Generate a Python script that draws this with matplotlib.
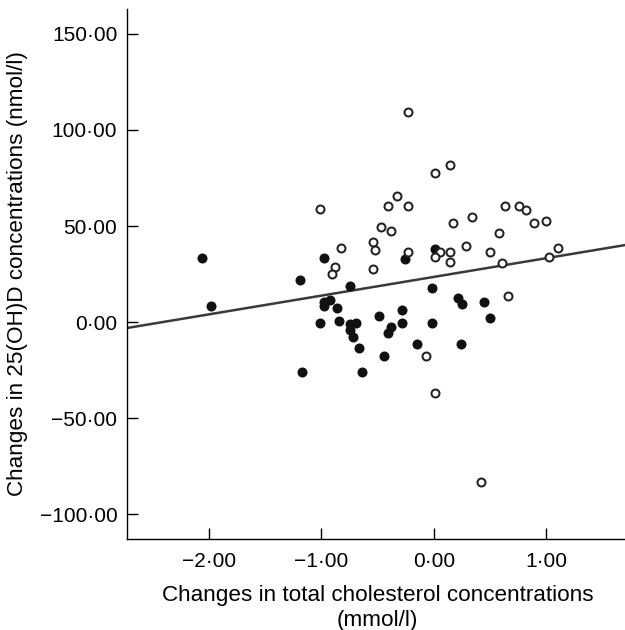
import numpy as np
import matplotlib
matplotlib.use('Agg')
import matplotlib.pyplot as plt
from matplotlib.ticker import FuncFormatter

# filled circles
filled_x = [-2.06, -1.98, -0.98, -1.19, -0.75, -0.98, -0.92, -0.98, -0.86, -1.01,
            -0.84, -0.75, -0.69, -0.75, -0.72, -0.67, -1.17, -0.64, -0.49, -0.26,
            0.01, -0.02, 0.21, 0.25, 0.45, 0.50, -0.28, -0.28, -0.385, -0.41,
            -0.02, -0.15, -0.44, 0.24]
filled_y = [33.5, 8.3, 33.5, 21.8, 18.6, 10.6, 11.5, 8.3, 7.1, -0.7,
            0.7, -1.0, -0.7, -4.2, -7.6, -13.7, -25.9, -25.9, 3.1, 32.6,
            37.8, 17.5, 12.7, 9.4, 10.6, 2.2, 6.3, -0.7, -2.8, -5.9,
            -0.7, -11.6, -17.7, -11.6]

# open circles
open_x = [-1.01, -0.83, -0.88, -0.91, -0.54, -0.52, -0.54, -0.47, -0.23, 0.01,
          0.14, -0.33, -0.41, -0.23, -0.385, -0.23, 0.05, 0.01, 0.14, 0.14,
          0.17, 0.34, 0.29, 0.58, 0.63, 0.76, 0.815, 0.89, 1.00, 0.50,
          0.61, 1.025, 1.105, 0.66, -0.07, 0.01, 0.42]
open_y = [58.7, 38.7, 28.8, 25.0, 41.5, 37.5, 27.6, 49.6, 109.5, 77.4,
          81.6, 65.6, 60.6, 60.6, 47.6, 36.6, 36.6, 33.7, 36.6, 31.4,
          51.4, 54.9, 39.8, 46.5, 60.6, 60.6, 58.3, 51.4, 52.6, 36.6,
          30.9, 33.7, 38.7, 13.5, -17.7, -36.8, -83.5]

# regression line
fit_intercept = 23.5
fit_slope = 9.75

x_ticks = [-2, -1, 0, 1]
y_ticks = [-100, -50, 0, 50, 100, 150]
x_lim = (-2.73, 1.70)
y_lim = (-113, 163)

plt.rcParams['font.family'] = ['Liberation Sans', 'DejaVu Sans']

fig = plt.figure(figsize=(6.25, 6.3), dpi=100)
ax = fig.add_axes([0.2032, 0.1444, 0.7968, 0.8413])

xs = np.array(x_lim)
ax.plot(xs, fit_intercept + fit_slope * xs, color='#3a3a3a', lw=1.8, zorder=2)

ax.scatter(filled_x, filled_y, s=52, c='#111111', linewidths=0, zorder=3)
ax.scatter(open_x, open_y, s=33, facecolors='white', edgecolors='#222222',
           linewidths=1.45, zorder=3)

ax.set_xlim(*x_lim)
ax.set_ylim(*y_lim)
ax.set_xticks(x_ticks)
ax.set_yticks(y_ticks)


def fmt(v, pos):
    s = f'{abs(v):.2f}'.replace('.', '\u00b7')
    return ('\u2212' + s) if v < 0 else s


ax.xaxis.set_major_formatter(FuncFormatter(fmt))
ax.yaxis.set_major_formatter(FuncFormatter(fmt))

for side in ['top', 'right']:
    ax.spines[side].set_visible(False)
for side in ['left', 'bottom']:
    ax.spines[side].set_linewidth(1.0)

ax.tick_params(axis='both', direction='in', length=8, width=1.0, labelsize=15)
ax.tick_params(axis='x', pad=9)
ax.tick_params(axis='y', pad=7)

ax.set_xlabel('Changes in total cholesterol concentrations\n(mmol/l)',
              fontsize=16.2, linespacing=1.3)
ax.set_ylabel('Changes in 25(OH)D concentrations (nmol/l)', fontsize=16.2)
ax.xaxis.set_label_coords(0.503, -0.086)
ax.yaxis.set_label_coords(-0.199, 0.5)

fig.savefig('out.png', dpi=100)
